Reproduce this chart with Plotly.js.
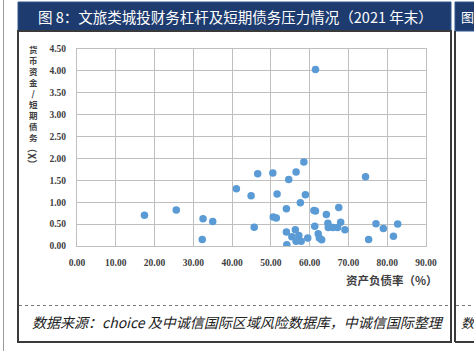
<!DOCTYPE html>
<html><head><meta charset="utf-8">
<script src="https://cdn.plot.ly/plotly-3.0.1.min.js"></script>
<style>html,body{margin:0;padding:0;background:#fff;}#chart{width:474px;height:351px;}</style>
</head><body><div id="chart"></div>
<script>
// 资产负债率（%）
const debtRatio = [17.4,25.6,32.5,35.0,32.3,41.1,44.9,46.6,45.7,50.5,56.5,54.6,58.5,61.5,74.4,51.6,58.9,57.6,54.0,61.1,61.5,64.3,67.5,50.6,51.4,61.3,64.7,64.8,66.0,68.0,67.2,69.1,77.1,79.0,82.7,81.6,75.2,54.0,56.3,55.4,57.2,56.5,57.8,59.5,54.1,62.2,62.5,63.1];
// 货币资金/短期债务（X）
const cashToShortDebt = [0.70,0.82,0.62,0.56,0.15,1.31,1.15,1.65,0.43,1.67,1.69,1.52,1.92,4.03,1.58,1.19,1.17,0.99,0.85,0.81,0.80,0.72,0.88,0.66,0.64,0.45,0.52,0.42,0.42,0.54,0.42,0.37,0.51,0.40,0.50,0.22,0.15,0.32,0.37,0.21,0.24,0.11,0.11,0.18,0.03,0.28,0.18,0.14];
const xTicks = [0,10,20,30,40,50,60,70,80,90];
const yTicks = [0,0.5,1,1.5,2,2.5,3,3.5,4,4.5];
const chartTitle = '图 8：文旅类城投财务杠杆及短期债务压力情况（2021 年末）';
const xTitle = '资产负债率（%）';
const yTitleChars = ['货','币','资','金','/','短','期','债','务'];
const yTitleUnit = '（X）';
const sourceText = '数据来源：choice 及中诚信国际区域风险数据库，中诚信国际整理';

const W = 474, H = 351;
const M = {l:77, r:48, t:49, b:105};
const PW = W - M.l - M.r, PH = H - M.t - M.b;
const px = x => (x - M.l) / PW;
const py = y => (H - M.b - y) / PH;

const shapes = [];
const rect = (x0,y0,x1,y1,opts) => shapes.push(Object.assign({type:'rect',xref:'paper',yref:'paper',x0:px(x0),x1:px(x1),y0:py(y1),y1:py(y0),layer:'below'},opts));
const line = (x0,y0,x1,y1,opts) => shapes.push(Object.assign({type:'line',xref:'paper',yref:'paper',x0:px(x0),x1:px(x1),y0:py(y0),y1:py(y1),layer:'below'},opts));

// outer thin line at left
line(3.5,0,3.5,351,{line:{color:'#9a9a9a',width:1}});
// title bars
rect(18,2,451,31,{fillcolor:'#1d3b6e',line:{color:'#2f5690',width:1}});
rect(455,2,476,31,{fillcolor:'#1d3b6e',line:{color:'#2f5690',width:1}});
// frames
rect(18,31,451,342,{line:{color:'#3a3a3a',width:2}});
line(455,31,455,342,{line:{color:'#3a3a3a',width:2}});
line(455,342,476,342,{line:{color:'#3a3a3a',width:2}});
// dotted separator
line(19,305.5,450,305.5,{line:{color:'#777',width:1,dash:'dot'}});
line(456,305.5,474,305.5,{line:{color:'#777',width:1,dash:'dot'}});

const ann = [];
const text = (t,x,y,font,extra) => ann.push(Object.assign({text:t,xref:'paper',yref:'paper',x:px(x),y:py(y),showarrow:false,font:font,xanchor:'center',yanchor:'middle'},extra||{}));
const cjk = "'Noto Sans CJK SC', sans-serif";
text(chartTitle,235,16,{family:cjk,size:14.5,color:'#ffffff'});
text('图',459,16,{family:cjk,size:13,color:'#ffffff'},{xanchor:'left'});
text(sourceText,238,322,{family:cjk,size:14,color:'#222',style:'italic'});
text('数',459,322,{family:cjk,size:13,color:'#222',style:'italic'},{xanchor:'left'});
text(xTitle,440,280,{family:cjk,size:11.5,color:'#404040',weight:'bold'},{xanchor:'right'});
text(yTitleChars.join('<br>'),33,41,{family:cjk,size:8.5,color:'#404040',weight:'bold'},{yanchor:'top'});
text(yTitleUnit,33,156,{family:cjk,size:10,color:'#404040',weight:'bold'},{textangle:90});

const tickFont = {family:"'Liberation Serif', serif", size:9.5, color:'#404040', weight:'bold'};

Plotly.newPlot('chart',[{
  type:'scatter', mode:'markers', x:debtRatio, y:cashToShortDebt,
  marker:{color:'#5b9bd5', size:7.5, line:{width:0}}, hoverinfo:'skip'
}],{
  width:W, height:H, margin:M, paper_bgcolor:'#ffffff', plot_bgcolor:'#ffffff', showlegend:false,
  xaxis:{range:[0,90], tickvals:xTicks, ticktext:xTicks.map(v=>v.toFixed(2)), showgrid:true, gridcolor:'#bfbfbf', gridwidth:1,
    zeroline:false, showline:true, linecolor:'#bfbfbf', linewidth:1, mirror:true, ticks:'', ticklabelstandoff:8, tickfont:tickFont, fixedrange:true},
  yaxis:{range:[0,4.5], tickvals:yTicks, ticktext:yTicks.map(v=>v.toFixed(2)), showgrid:true, gridcolor:'#bfbfbf', gridwidth:1,
    zeroline:false, showline:true, linecolor:'#bfbfbf', linewidth:1, mirror:true, ticks:'', ticklabelstandoff:8, tickfont:tickFont, fixedrange:true},
  shapes:shapes, annotations:ann
},{displayModeBar:false, staticPlot:true});
</script></body></html>
